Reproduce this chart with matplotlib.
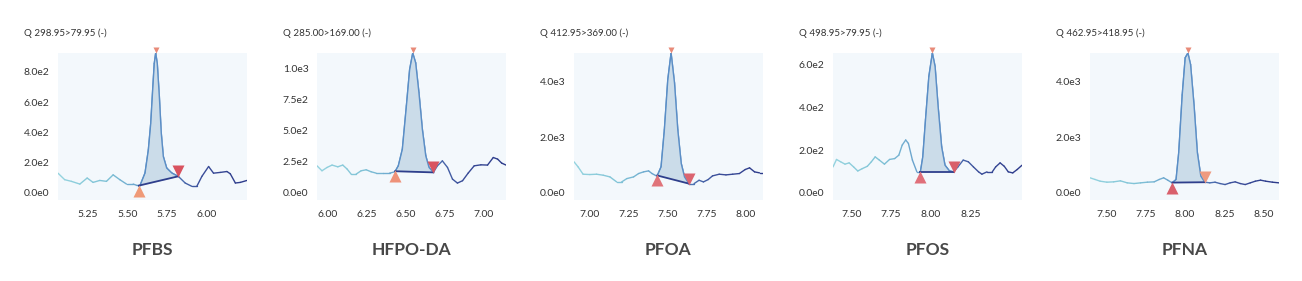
import numpy as np
import matplotlib
matplotlib.use("Agg")
import matplotlib.pyplot as plt
from matplotlib.collections import LineCollection
from matplotlib.colors import LinearSegmentedColormap, TwoSlopeNorm
from matplotlib import transforms

# ---------------- data ----------------
compounds = ["PFBS", "HFPO-DA", "PFOA", "PFOS", "PFNA"]
transitions = ["Q 298.95>79.95 (-)", "Q 285.00>169.00 (-)", "Q 412.95>369.00 (-)",
               "Q 498.95>79.95 (-)", "Q 462.95>418.95 (-)"]

pfbs_rt = [5.065, 5.107, 5.149, 5.202, 5.248, 5.285, 5.327, 5.369, 5.411, 5.453, 5.495,
           5.537, 5.560, 5.579, 5.611, 5.632, 5.647, 5.659, 5.669, 5.678, 5.688, 5.701,
           5.713, 5.726, 5.747, 5.779, 5.821, 5.863, 5.905, 5.936, 5.968, 6.010, 6.041,
           6.083, 6.125, 6.146, 6.178, 6.209, 6.251]
pfbs_int = [131, 88, 77, 59, 99, 70, 83, 77, 120, 88, 59,
            59, 50, 48, 132, 285, 461, 680, 855, 925, 855, 636,
            395, 241, 165, 132, 109, 66, 44, 44, 110, 175, 131,
            136, 142, 127, 66, 70, 83]

hfpo_rt = [5.929, 5.961, 5.994, 6.026, 6.063, 6.095, 6.123, 6.149, 6.181, 6.213, 6.246,
           6.278, 6.310, 6.354, 6.397, 6.431, 6.453, 6.479, 6.505, 6.526, 6.546, 6.565,
           6.586, 6.608, 6.630, 6.651, 6.679, 6.705, 6.737, 6.770, 6.802, 6.834, 6.867,
           6.903, 6.942, 6.985, 7.028, 7.065, 7.093, 7.119, 7.147]
hfpo_int = [219, 179, 206, 225, 211, 225, 193, 152, 152, 179, 187,
            171, 160, 160, 160, 171, 219, 353, 701, 995, 1128, 1048,
            808, 513, 299, 206, 166, 219, 259, 206, 112, 80, 99,
            160, 219, 227, 225, 286, 273, 241, 225]

pfoa_rt = [6.899, 6.925, 6.957, 7.000, 7.043, 7.086, 7.129, 7.172, 7.204, 7.237, 7.280,
           7.312, 7.344, 7.376, 7.398, 7.430, 7.456, 7.477, 7.499, 7.520, 7.542, 7.563,
           7.585, 7.606, 7.634, 7.667, 7.699, 7.727, 7.757, 7.785, 7.828, 7.871, 7.914,
           7.957, 7.994, 8.022, 8.054, 8.086, 8.108]
pfoa_int = [1121, 940, 675, 663, 675, 639, 578, 398, 398, 518, 578,
            699, 759, 795, 699, 603, 940, 2265, 4073, 5030, 3952, 2265,
            1060, 578, 337, 337, 458, 398, 482, 615, 675, 651, 675,
            699, 843, 904, 759, 723, 723]

pfos_rt = [7.386, 7.408, 7.434, 7.461, 7.487, 7.515, 7.541, 7.569, 7.601, 7.626, 7.650,
           7.676, 7.708, 7.740, 7.772, 7.798, 7.819, 7.841, 7.858, 7.883, 7.911, 7.933,
           7.948, 7.965, 7.986, 8.008, 8.025, 8.044, 8.066, 8.087, 8.115, 8.141, 8.168,
           8.201, 8.233, 8.265, 8.297, 8.318, 8.350, 8.383, 8.404, 8.432, 8.458, 8.483,
           8.511, 8.539, 8.569]
pfos_int = [122, 157, 146, 135, 141, 122, 103, 114, 125, 146, 169,
            154, 135, 157, 161, 177, 224, 248, 232, 154, 99, 99,
            169, 342, 545, 655, 592, 404, 216, 130, 103, 99, 122,
            154, 146, 122, 99, 88, 99, 99, 122, 141, 125, 99,
            94, 110, 130]

pfna_rt = [7.397, 7.429, 7.461, 7.504, 7.547, 7.590, 7.633, 7.676, 7.718, 7.761, 7.804,
           7.836, 7.864, 7.890, 7.918, 7.943, 7.960, 7.982, 8.001, 8.018, 8.035, 8.057,
           8.078, 8.100, 8.125, 8.157, 8.190, 8.222, 8.254, 8.286, 8.318, 8.350, 8.382,
           8.414, 8.446, 8.479, 8.511, 8.554, 8.596]
pfna_int = [545, 485, 424, 388, 400, 436, 364, 339, 364, 388, 400,
            485, 545, 461, 364, 485, 1454, 3515, 4848, 5020, 4606, 3151,
            1454, 606, 388, 364, 388, 339, 303, 364, 400, 339, 303,
            364, 424, 461, 424, 388, 364]

rts = [pfbs_rt, hfpo_rt, pfoa_rt, pfos_rt, pfna_rt]
ints = [pfbs_int, hfpo_int, pfoa_int, pfos_int, pfna_int]

peak_start = [5.572, 6.433, 7.432, 7.930, 7.920]
peak_end = [5.819, 6.679, 7.634, 8.141, 8.127]

yticks = [[0, 200, 400, 600, 800],
          [0, 250, 500, 750, 1000],
          [0, 2000, 4000],
          [0, 200, 400, 600],
          [0, 2000, 4000]]
ytick_labels = [["0.0e0", "2.0e2", "4.0e2", "6.0e2", "8.0e2"],
                ["0.0e0", "2.5e2", "5.0e2", "7.5e2", "1.0e3"],
                ["0.0e0", "2.0e3", "4.0e3"],
                ["0.0e0", "2.0e2", "4.0e2", "6.0e2"],
                ["0.0e0", "2.0e3", "4.0e3"]]
xticks = [[5.25, 5.50, 5.75, 6.00],
          [6.00, 6.25, 6.50, 6.75, 7.00],
          [7.00, 7.25, 7.50, 7.75, 8.00],
          [7.50, 7.75, 8.00, 8.25],
          [7.50, 7.75, 8.00, 8.25, 8.50]]

start_colors = ["#ef9a78", "#ee9279", "#e0747a", "#e0707a", "#d9606c"]
end_colors = ["#d9535f", "#d9535f", "#db6470", "#d9606a", "#ee9a80"]
peak_color = "#e88a78"

# ---------------- style ----------------
FONT = ["Lato", "DejaVu Sans"]
plt.rcParams["font.family"] = FONT

W, H = 1302, 281
fig = plt.figure(figsize=(W / 100, H / 100), dpi=100)
fig.patch.set_facecolor("white")

ax_left_px = [58, 317, 574, 833, 1090]
ax_w_px = 189
ax_top_px, ax_bot_px = 53, 200

cmap = LinearSegmentedColormap.from_list(
    "trace", ["#95d4df", "#7fc2d6", "#5e92c8", "#3b4f9a", "#2c3a8a"])

for i in range(5):
    rt = np.array(rts[i], float)
    it = np.array(ints[i], float)
    ax = fig.add_axes([ax_left_px[i] / W, 1 - ax_bot_px / H,
                       ax_w_px / W, (ax_bot_px - ax_top_px) / H])
    ax.set_facecolor("#f3f8fc")
    for s in ax.spines.values():
        s.set_visible(False)

    top = it.max()
    ax.set_ylim(-0.05 * top, top)
    ax.set_xlim(rt.min(), rt.max())

    # gradient trace
    pts = np.column_stack([rt, it]).reshape(-1, 1, 2)
    segs = np.concatenate([pts[:-1], pts[1:]], axis=1)
    pk = rt[np.argmax(it)]
    norm = TwoSlopeNorm(vmin=rt.min(), vcenter=pk, vmax=rt.max())
    lc = LineCollection(segs, cmap=cmap, norm=norm, linewidths=1.0,
                        capstyle="round", joinstyle="round")
    lc.set_array(0.5 * (rt[:-1] + rt[1:]))
    ax.add_collection(lc)

    # integrated peak
    xs, xe = peak_start[i], peak_end[i]
    ys, ye = np.interp(xs, rt, it), np.interp(xe, rt, it)
    inside = (rt > xs) & (rt < xe)
    px = np.concatenate([[xs], rt[inside], [xe]])
    py = np.concatenate([[ys], it[inside], [ye]])
    base = ys + (px - xs) * (ye - ys) / (xe - xs)
    ax.fill_between(px, py, base, color="#c9dbe8", alpha=0.95, lw=0, zorder=2)
    ax.plot(px, py, color="#5b8ec6", lw=1.0, zorder=3)
    ax.plot([xs, xe], [ys, ye], color="#2f3f8c", lw=1.3, zorder=4)

    # markers
    down = transforms.offset_copy(ax.transData, fig=fig, x=0, y=-5, units="dots")
    up = transforms.offset_copy(ax.transData, fig=fig, x=0, y=5, units="dots")
    up_small = transforms.offset_copy(ax.transData, fig=fig, x=0, y=3, units="dots")
    ax.plot([xs], [ys], marker="^", ms=9, color=start_colors[i], mec="none",
            transform=down, clip_on=False, zorder=6)
    ax.plot([xe], [ye], marker="v", ms=9, color=end_colors[i], mec="none",
            transform=up, clip_on=False, zorder=6)
    ax.plot([pk], [top], marker="v", ms=5, color=peak_color, mec="none",
            transform=up_small, clip_on=False, zorder=6)

    # ticks
    ax.set_yticks(yticks[i])
    ax.set_yticklabels(ytick_labels[i])
    ax.set_xticks(xticks[i])
    ax.set_xticklabels([f"{v:.2f}" for v in xticks[i]])
    ax.tick_params(length=0, labelsize=7.5, labelcolor="#333333")
    ax.tick_params(axis="y", pad=6)
    ax.tick_params(axis="x", pad=7)

    # texts
    fig.text((ax_left_px[i] - 34) / W, 1 - 33 / H, transitions[i], fontsize=7,
             color="#333333", ha="left", va="center")
    fig.text((ax_left_px[i] + ax_w_px / 2) / W, 1 - 250 / H, compounds[i],
             fontsize=12.5, fontweight="bold", color="#484848", ha="center", va="center")

fig.savefig("out.png", dpi=100, facecolor="white")
